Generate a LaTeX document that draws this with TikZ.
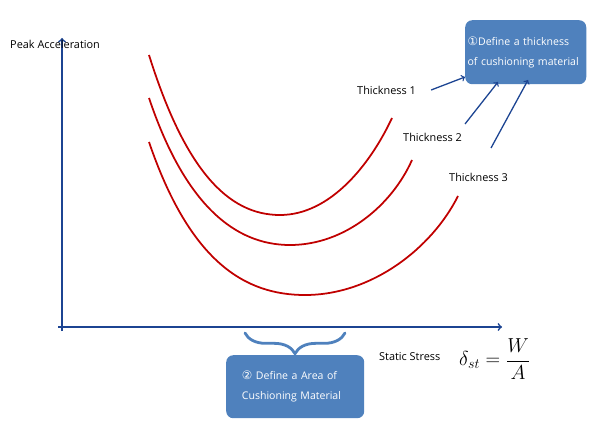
\documentclass[tikz,border=0pt]{standalone}
\usepackage{fontspec}
\setmainfont{Open Sans}
\newfontfamily\circfont{DejaVu Sans}
\usepackage{tikz}
\usetikzlibrary{arrows,decorations.pathreplacing}

\begin{document}
\begin{tikzpicture}[x=0.03cm,y=-0.03cm]

	\definecolor{axisblue}{RGB}{28,68,146}
	\definecolor{boxblue}{RGB}{79,129,189}
	\definecolor{curvered}{RGB}{192,0,0}

	\useasboundingbox (0,0) rectangle (600,426);

	\tikzstyle{axis} = [draw=axisblue,line width=1.4pt,->,>=to]
	\tikzstyle{pointer} = [draw=axisblue,line width=1.1pt,->,>=to]
	\tikzstyle{curve} = [draw=curvered,line width=1.5pt]
	\tikzset{label/.style = {anchor=west,inner sep=0pt,font=\fontsize{9.3}{11}\selectfont}}
	\tikzset{infobox/.style = {fill=boxblue,rounded corners=6pt,text=white,align=left,
		font=\fontsize{9}{17}\selectfont,inner sep=0pt,anchor=north west}}

	% axes
	\coordinate (origin) at (62,327);
	\coordinate (ytip) at (62,38);
	\coordinate (xtip) at (502,327);
	\draw[axis] (62,331) -- (ytip);
	\draw[axis] (58,327) -- (xtip);
	\node[label] (ylab) at (10,44) {Peak Acceleration};
	\node[label] (xlab) at (379,357) {Static Stress};
	\node[anchor=west,inner sep=0pt,font=\fontsize{17}{20}\selectfont] (formula) at (459,359) {$\displaystyle\delta_{st} = \frac{W}{A}$};

	% curves
	\draw[curve] (149,55) .. controls (185,170) and (228,215) .. (280,215)
		.. controls (330,215) and (370,165) .. (392,118);
	\draw[curve] (149,98) .. controls (185,205) and (235,245) .. (290,245)
		.. controls (345,245) and (392,205) .. (412,160);
	\draw[curve] (149,142) .. controls (190,262) and (245,295) .. (305,295)
		.. controls (372,295) and (432,248) .. (458,196);

	% thickness labels
	\node[label] (t1) at (357,90) {Thickness 1};
	\node[label] (t2) at (403,137) {Thickness 2};
	\node[label] (t3) at (449,177) {Thickness 3};

	% box 1
	\node[infobox,minimum width=3.63cm,minimum height=1.92cm,text width=3.55cm] (box1) at (465,20)
		{\hspace*{0.03cm}{\circfont\fontsize{10}{17}\selectfont ①}Define a thickness\\\hspace*{0.03cm}of cushioning material\\[9pt]};
	\coordinate (b1) at (465,77);
	\coordinate (b2) at (498,82);
	\coordinate (b3) at (528,80);
	\draw[pointer] ([xshift=0.45cm]t1.east) -- (b1);
	\draw[pointer] (465,124) -- (b2);
	\draw[pointer] (491,148) -- (b3);

	% brace and box 2
	\draw[draw=boxblue,line width=2.4pt,line cap=round,decorate,
		decoration={brace,mirror,amplitude=0.62cm}] (245,333) -- (345,333);
	\node[infobox,minimum width=4.14cm,minimum height=1.89cm,text width=3.8cm] (box2) at (226,355)
		{\hspace*{0.3cm}{\circfont\fontsize{10}{17}\selectfont ②} Define a Area of\\\hspace*{0.3cm}Cushioning Material\\[9pt]};

\end{tikzpicture}
\end{document}
